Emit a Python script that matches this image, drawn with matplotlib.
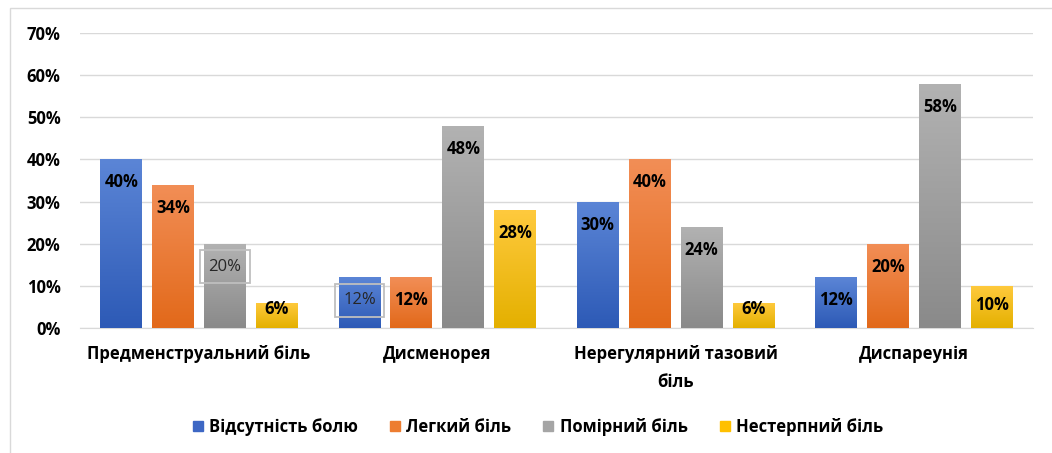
import numpy as np
import matplotlib.pyplot as plt
from matplotlib.patches import Patch, Rectangle
from matplotlib.colors import LinearSegmentedColormap
from matplotlib.ticker import PercentFormatter

categories = ['Предменструальний біль', 'Дисменорея', 'Нерегулярний тазовий\nбіль', 'Диспареунія']
series = ['Відсутність болю', 'Легкий біль', 'Помірний біль', 'Нестерпний біль']
no_pain = [0.40, 0.12, 0.30, 0.12]
mild = [0.34, 0.12, 0.40, 0.20]
moderate = [0.20, 0.48, 0.24, 0.58]
severe = [0.06, 0.28, 0.06, 0.10]
values = [no_pain, mild, moderate, severe]

# (top, bottom) of each gradient, and legend colour
grad = [('#5b85d6', '#2d5ab6'), ('#f28e56', '#e2691a'), ('#b2b2b2', '#8a8a8a'), ('#ffca3e', '#e4b000')]
solid = ['#3d67c4', '#ed7d31', '#a5a5a5', '#ffc000']
# labels that Excel drew in a box, not bold
boxed = {(2, 0), (0, 1)}

plt.rcParams['font.family'] = ['Open Sans', 'DejaVu Sans']

fig = plt.figure(figsize=(10.52, 4.53), dpi=100)
fig.patches.append(Rectangle((10/1052, -0.1), 1.2, (453-8)/453 + 0.1, transform=fig.transFigure,
                             fill=False, edgecolor='#d9d9d9', lw=1))
ax = fig.add_axes([80/1052, (453-328)/453, (1033-80)/1052, (328-33)/453])

x = np.arange(len(categories))
w = 0.176
step = 0.218
ax.set_xlim(-0.5, len(categories) - 0.5)
ax.set_ylim(0, 0.7)
px_per_unit = (328 - 33) / 0.7

for i, vals in enumerate(values):
    bars = ax.bar(x + (i - 1.5) * step, vals, w, color='none', edgecolor='none', zorder=3)
    cmap = LinearSegmentedColormap.from_list('g%d' % i, [grad[i][1], grad[i][0]])
    for j, b in enumerate(bars):
        x0 = b.get_x()
        h = b.get_height()
        im = ax.imshow(np.linspace(0, 1, 100).reshape(-1, 1), cmap=cmap, origin='lower', aspect='auto',
                       extent=(x0, x0 + b.get_width(), 0, h), zorder=3)
        im.set_clip_path(b)
        hp = h * px_per_unit
        off = min(23, max(6, hp - 23)) * 72 / 100
        if (i, j) in boxed:
            ax.annotate('%d%%' % round(h * 100), (x0 + b.get_width() / 2, h), xytext=(0, -off),
                        textcoords='offset points', ha='center', va='center', fontsize=12, color='#262626',
                        zorder=5, bbox=dict(boxstyle='square,pad=0.5', fc='none', ec='#bfbfbf', lw=1.3))
        else:
            ax.annotate('%d%%' % round(h * 100), (x0 + b.get_width() / 2, h), xytext=(0, -off),
                        textcoords='offset points', ha='center', va='center', fontsize=12,
                        fontweight='bold', color='black', zorder=5)

ax.set_xlim(-0.5, len(categories) - 0.5)
ax.set_ylim(0, 0.7)
ax.set_yticks(np.arange(0, 0.71, 0.1))
ax.yaxis.set_major_formatter(PercentFormatter(1.0, decimals=0))
ax.set_xticks(x)
ax.set_xticklabels(categories, fontweight='bold', fontsize=12, linespacing=1.75)
for lab in ax.get_yticklabels():
    lab.set_fontweight('bold')
    lab.set_fontsize(12)
ax.tick_params(axis='y', length=0, pad=14)
ax.tick_params(axis='x', length=0, pad=12)
ax.grid(axis='y', color='#d9d9d9', lw=1, zorder=0)
for s in ['top', 'right', 'left']:
    ax.spines[s].set_visible(False)
ax.spines['bottom'].set_color('#d9d9d9')

handles = [Patch(color=c) for c in solid]
fig.legend(handles, series, loc='center', bbox_to_anchor=(538/1052, (453-427)/453), ncol=4, frameon=False,
           prop={'weight': 'bold', 'size': 12}, handlelength=0.6, handleheight=0.6,
           handletextpad=0.4, columnspacing=1.9)

fig.savefig('out.png', dpi=100)
